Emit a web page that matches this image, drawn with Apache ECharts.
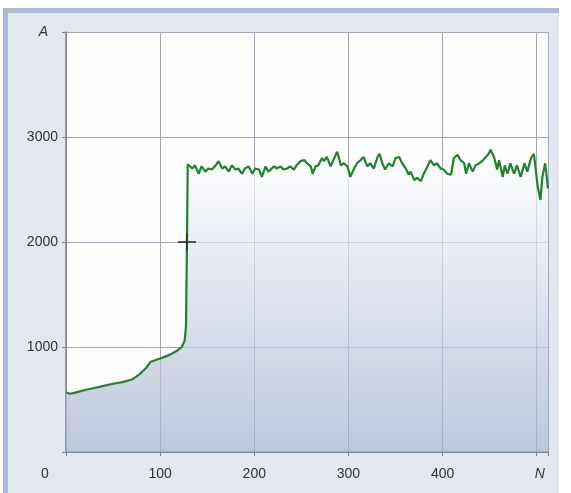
<!DOCTYPE html>
<html>
<head>
<meta charset="utf-8">
<script src="https://cdn.jsdelivr.net/npm/echarts@6/dist/echarts.min.js"></script>
<style>
html,body{margin:0;padding:0;background:#fff;}
#frame{position:absolute;left:3px;top:8px;width:556px;height:485px;box-sizing:border-box;background:#e3e7f0;border-top:5px solid #a9b8d4;border-left:5px solid #a9b8d4;}
#main{position:absolute;left:0;top:0;width:571px;height:493px;}
</style>
</head>
<body>
<div id="frame"></div>
<div id="main"></div>
<script>
// slow rise before the step
var riseN=[0,4,10,20,30,40,50,60,70,78,85,90,100,110,118,123,126,127.5,128.5,129.3];
var riseA=[570,555,565,590,610,630,650,665,690,740,800,860,890,925,965,1000,1060,1200,2000,2740];
// noisy plateau after the step
var plateauN=[130,134,137,141,144,148,151,155,159,162,
	166,169,173,176,180,183,187,190,194,198,
	201,205,208,212,215,221,224,228,231,235,
	238,242,245,249,253,256,260,262,265,268,
	272,274,277,281,284,288,292,295,299,302,
	306,309,313,316,320,323,327,331,333,336,
	339,343,347,350,354,357,361,364,366,370,
	373,377,380,384,387,391,394,398,401,405,
	409,412,416,419,423,425,428,432,435,439,
	442,446,449,451,455,458,460,464,466,469,
	472,476,479,483,487,490,494,497,499,501,
	504,506,509,511,512];
var plateauA=[2750,2700,2730,2650,2720,2670,2700,2690,2730,2770,
	2700,2720,2670,2730,2690,2700,2650,2700,2720,2650,
	2700,2690,2620,2720,2670,2720,2700,2720,2690,2700,
	2720,2690,2730,2770,2780,2750,2720,2650,2720,2730,
	2800,2770,2810,2720,2780,2860,2730,2750,2720,2620,
	2700,2750,2780,2810,2720,2750,2700,2810,2840,2750,
	2690,2750,2720,2800,2810,2750,2700,2640,2670,2590,
	2610,2580,2650,2720,2780,2730,2750,2700,2690,2650,
	2640,2800,2830,2780,2750,2650,2750,2670,2730,2750,
	2770,2810,2840,2880,2800,2690,2780,2620,2730,2650,
	2750,2650,2730,2620,2750,2670,2800,2840,2690,2530,
	2400,2620,2750,2590,2510];
// cursor cross
var markerN=[128.5];
var markerA=[2000];

function pairs(xs,ys){
	var out=[];
	for(var i=0;i<xs.length;i++)
		out.push([xs[i],ys[i]]);
	return out;
}

var fontName='Liberation Sans';
var textColor='#333333';
var plus='path://M-1,-10 L1,-10 L1,-1 L10,-1 L10,1 L1,1 L1,10 L-1,10 L-1,1 L-10,1 L-10,-1 L-1,-1 Z';

var myChart=echarts.init(document.getElementById('main'));
var option={
	backgroundColor:'transparent',
	animation:false,
	grid:{
		left:66,top:32,right:23,bottom:41,
		show:true,
		backgroundColor:'#fefefe',
		borderWidth:0
	},
	xAxis:{
		type:'value',
		min:0,max:512,interval:100,
		axisLine:{show:true,lineStyle:{color:'#7d8391',width:1.5}},
		axisTick:{show:true,length:4,lineStyle:{color:'#7d8391'}},
		splitLine:{show:true,lineStyle:{color:'#9ea7c6',width:1}},
		axisLabel:{
			margin:15,
			fontFamily:fontName,fontSize:14,color:textColor,
			formatter:function(v){
				if(v===0) return '{o|0}';
				if(v===500) return '{n|N}';
				if(v%100!==0) return '';
				return String(v);
			},
			rich:{
				o:{fontFamily:fontName,fontSize:14,color:textColor,padding:[0,42,0,0]},
				n:{fontFamily:fontName,fontSize:14,color:textColor,fontStyle:'italic',padding:[0,0,0,6]}
			}
		}
	},
	yAxis:{
		type:'value',
		min:0,max:4000,interval:1000,
		axisLine:{show:true,lineStyle:{color:'#7d8391',width:1.5}},
		axisTick:{show:true,length:4,lineStyle:{color:'#7d8391'}},
		splitLine:{show:true,lineStyle:{color:'#9ea7c6',width:1}},
		axisLabel:{
			margin:8,
			fontFamily:fontName,fontSize:14,color:textColor,
			formatter:function(v){
				if(v===0) return '';
				if(v===4000) return '{a|A}';
				return String(v);
			},
			rich:{
				a:{fontFamily:fontName,fontSize:14,color:textColor,fontStyle:'italic',padding:[0,10,0,0]}
			}
		}
	},
	series:[
	{
		type:'line',
		data:pairs(riseN,riseA).concat(pairs(plateauN,plateauA)),
		showSymbol:false,
		symbol:'none',
		lineStyle:{color:'#1f822c',width:2.2},
		areaStyle:{
			color:new echarts.graphic.LinearGradient(0,0,0,1,[
				{offset:0,color:'#ffffff'},
				{offset:0.35,color:'#dde3ee'},
				{offset:1,color:'#a2b1cd'}
			])
		},
		z:2
	},
	{
		type:'scatter',
		data:pairs(markerN,markerA),
		symbol:plus,
		symbolSize:18,
		itemStyle:{color:'#2b2b2b'},
		z:5
	}]
};
myChart.setOption(option);
</script>
</body>
</html>
